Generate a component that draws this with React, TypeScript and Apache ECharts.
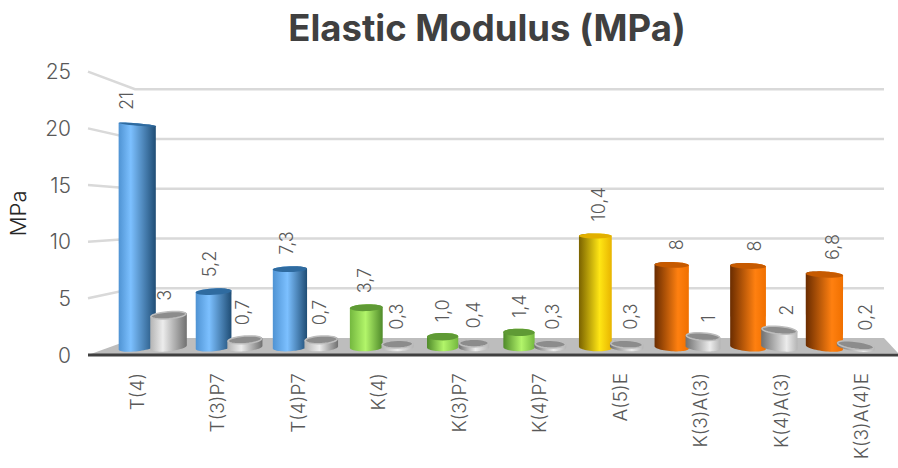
import React, { useEffect, useRef } from "react";
import * as echarts from "echarts";

const categories = ["T(4)", "T(3)P7", "T(4)P7", "K(4)", "K(3)P7", "K(4)P7", "A(5)E", "K(3)A(3)", "K(4)A(3)", "K(3)A(4)E"];
const mainValues = [20.8, 5.2, 7.3, 3.7, 1.0, 1.4, 10.4, 7.7, 7.6, 6.8];
const greyValues = [3.0, 0.7, 0.7, 0.3, 0.4, 0.3, 0.3, 1.0, 1.6, 0.2];
const mainLabels = ["21", "5,2", "7,3", "3,7", "1,0", "1,4", "10,4", "8", "8", "6,8"];
const greyLabels = ["3", "0,7", "0,7", "0,3", "0,4", "0,3", "0,3", "1", "2", "0,2"];
const yTicks = [5, 10, 15, 20, 25];
const familyByCategory = [0, 0, 0, 1, 1, 1, 2, 3, 3, 3];

type Shade = { mid: string; light: string; dark: string; top: string; rim?: string };
const palettes: Shade[] = [
  { mid: "#4f93d3", light: "#7cc0ff", dark: "#1f4d75", top: "#2f6ba0" },
  { mid: "#74b83f", light: "#b2f56a", dark: "#4f8a2a", top: "#5f9a35" },
  { mid: "#e8b400", light: "#ffe614", dark: "#7a6200", top: "#e2b000" },
  { mid: "#f07000", light: "#ff8010", dark: "#6a2c00", top: "#c65a00" },
];
const greyShade: Shade = { mid: "#b4b4b4", light: "#ececec", dark: "#707070", top: "#8c8c8c", rim: "#bdbdbd" };

const FONT = "Inter";
const TEXT = "#595959";

// Pseudo-3D projection of the plot box: depth 0 is the front plane, depth 1 the back wall.
const FRONT_LEFT = 88;
const FRONT_RIGHT = 898;
const BACK_LEFT = 135;
const BACK_RIGHT = 884;
const BACK_DROP = 17;
const BACK_SCALE = 49.8 / 56.7;
const BAR_DROP = 7.65;
const BAR_SCALE = 10.71 / 11.33;
const toBack = (api: any, v: number) => {
  const y0 = api.coord([0, 0])[1];
  const y = api.coord([0, v])[1];
  return y0 - BACK_DROP + (y - y0) * BACK_SCALE;
};

function ellipsePts(cx: number, cy: number, rx: number, ry: number, deg: number, from: number, to: number) {
  const a = (deg * Math.PI) / 180;
  const pts: number[][] = [];
  const n = 28;
  for (let i = 0; i <= n; i++) {
    const t = from + ((to - from) * i) / n;
    const ex = rx * Math.cos(t);
    const ey = ry * Math.sin(t);
    pts.push([cx + ex * Math.cos(a) - ey * Math.sin(a), cy + ex * Math.sin(a) + ey * Math.cos(a)]);
  }
  return pts;
}

function cylinder(api: any, pairOffset: number, shade: Shade, label: string) {
  const i = api.value(0);
  const v = api.value(1);
  const front0 = api.coord([i, 0]);
  const frontV = api.coord([i, v]);
  const x = 152.5 + ((front0[0] - 137) * 76.35) / 80.5 + pairOffset;
  const base = front0[1] - BAR_DROP;
  const top = base + (frontV[1] - front0[1]) * BAR_SCALE;
  const rx = (30.5 + Math.abs(x - 480) * 0.02) / 2;
  const ryOf = (y: number) => 1.2 + (y - 124) * 0.012;
  const tx = (x - 480) / 340;
  const angOf = (y: number) => (tx * (y - 218) * 5) / 95;
  const ryT = ryOf(top);
  const ryB = ryOf(base);
  const body = [
    ...ellipsePts(x, top, rx, ryT, angOf(top), Math.PI, 2 * Math.PI),
    ...ellipsePts(x, base, rx, ryB, angOf(base), 0, Math.PI),
  ];
  const lean = Math.max(-1, Math.min(1, (x - 400) / 300));
  const mix = lean * 0.2 + 0.5;
  const leftC = lean > 0.1 ? shade.dark : shade.mid;
  const rightC = lean < -0.1 ? shade.dark : shade.mid;
  const fill = new echarts.graphic.LinearGradient(0, 0, 1, 0, [
    { offset: 0, color: leftC },
    { offset: mix, color: shade.light },
    { offset: 1, color: rightC },
  ]);
  const k = x < 480 ? 0.01 + (0.02 * (347 - top)) / 223 : 0.025;
  return {
    type: "group",
    children: [
      { type: "polygon", shape: { points: body }, style: { fill } },
      {
        type: "polygon",
        shape: { points: ellipsePts(x, top, rx - (shade.rim ? 0.8 : 0), ryT, angOf(top), 0, 2 * Math.PI) },
        style: { fill: shade.top, stroke: shade.rim || undefined, lineWidth: shade.rim ? 1.5 : 0 },
      },
      {
        type: "text",
        x: x + (x - 480) * k,
        y: top - 14.5,
        rotation: Math.PI / 2,
        style: { text: label, align: "left", verticalAlign: "middle", fontFamily: FONT, fontSize: 18, fontWeight: 300, fill: TEXT },
      },
    ],
  };
}

export default function App() {
  const ref = useRef<HTMLDivElement>(null);
  useEffect(() => {
    if (!ref.current) return;
    const chart = echarts.init(ref.current, undefined, { renderer: "svg" });
    chart.setOption({
      animation: false,
      backgroundColor: "#ffffff",
      title: {
        text: "Elastic Modulus (MPa)",
        left: 482,
        top: 4,
        textAlign: "center",
        textStyle: { fontFamily: FONT, fontWeight: "bold", fontSize: 36.5, color: "#404040" },
      },
      grid: { left: 97, width: 805, top: 71.7, height: 283.3, outerBoundsMode: "none" },
      xAxis: {
        type: "category",
        data: categories,
        axisLine: { show: false },
        axisTick: { show: false },
        axisLabel: { rotate: 90, margin: 18, fontFamily: FONT, fontSize: 19, fontWeight: 300, color: TEXT, interval: 0 },
      },
      yAxis: {
        type: "value",
        min: 0,
        max: 25,
        interval: 5,
        name: "MPa",
        nameLocation: "middle",
        nameGap: 68,
        nameRotate: 90,
        nameTextStyle: { fontFamily: FONT, fontSize: 22, fontWeight: 300, color: "#262626" },
        axisLine: { show: false },
        axisTick: { show: false },
        splitLine: { show: false },
        axisLabel: { margin: 26, fontFamily: FONT, fontSize: 21, fontWeight: 300, color: TEXT },
      },
      series: [
        {
          type: "custom",
          silent: true,
          z: 1,
          data: yTicks.map((t) => [0, t]),
          clip: false,
          renderItem: (_p: any, api: any) => {
            const v = api.value(1);
            const f = api.coord([0, v])[1];
            const b = toBack(api, v);
            return {
              type: "polyline",
              shape: { points: [[FRONT_LEFT, f], [BACK_LEFT, b], [BACK_RIGHT, b]] },
              style: { stroke: "#d9d9d9", lineWidth: 2.5, fill: "none" },
            };
          },
        },
        {
          type: "custom",
          silent: true,
          z: 2,
          clip: false,
          data: [[0, 0]],
          renderItem: (_p: any, api: any) => {
            const f = api.coord([0, 0]);
            const b = toBack(api, 0);
            return {
              type: "group",
              children: [
                {
                  type: "polygon",
                  shape: { points: [[FRONT_LEFT, f[1]], [BACK_LEFT, b], [BACK_RIGHT, b], [FRONT_RIGHT, f[1] - 2]] },
                  style: { fill: "#bdbdbd" },
                },
                {
                  type: "line",
                  shape: { x1: FRONT_LEFT, y1: f[1], x2: FRONT_RIGHT, y2: f[1] },
                  style: { stroke: "#404040", lineWidth: 3 },
                },
              ],
            };
          },
        },
        {
          type: "custom",
          silent: true,
          z: 3,
          clip: false,
          data: mainValues.map((v, i) => [i, v]),
          renderItem: (p: any, api: any) =>
            cylinder(api, -15.5, palettes[familyByCategory[p.dataIndex]], mainLabels[p.dataIndex]),
        },
        {
          type: "custom",
          silent: true,
          z: 4,
          clip: false,
          data: greyValues.map((v, i) => [i, v]),
          renderItem: (p: any, api: any) => cylinder(api, 15.8, greyShade, greyLabels[p.dataIndex]),
        },
      ],
    });
    return () => chart.dispose();
  }, []);
  return <div ref={ref} style={{ position: "absolute", left: 0, top: 0, width: 898, height: 468 }} />;
}
